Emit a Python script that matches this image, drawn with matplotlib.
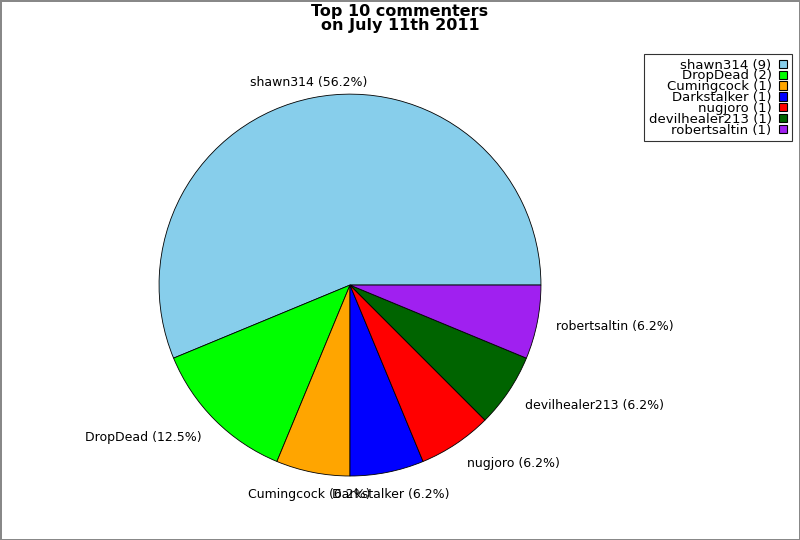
import matplotlib
matplotlib.use("Agg")
import matplotlib.pyplot as plt
from matplotlib.patches import Patch

# data
names = ["shawn314", "DropDead", "Cumingcock", "Darkstalker",
         "nugjoro", "devilhealer213", "robertsaltin"]
counts = [9, 2, 1, 1, 1, 1, 1]
colors = ["#87CEEB", "#00FF00", "#FFA500", "#0000FF",
          "#FF0000", "#006400", "#A020F0"]

total = float(sum(counts))
labels = ["%s (%.1f%%)" % (n, 100.0 * c / total) for n, c in zip(names, counts)]

fig = plt.figure(figsize=(8, 5.4), dpi=100)
fig.patch.set_edgecolor("#888888")
fig.patch.set_linewidth(2)

ax = fig.add_axes([0.139, 0.0301, 0.597, 0.884])
wedges, texts = ax.pie(counts, labels=labels, colors=colors, startangle=0,
                       counterclock=True, labeldistance=1.1,
                       wedgeprops={"edgecolor": "black", "linewidth": 0.6},
                       textprops={"fontsize": 9})
# labels near the vertical axis are centred; most sit a touch lower
for t in texts:
    x, y = t.get_position()
    if abs(y) > 0.3:
        t.set_y(y - 0.02)
    if abs(x) < 0.3:
        t.set_ha("center")

fig.suptitle("Top 10 commenters\non July 11th 2011", x=0.5, y=0.992,
             fontsize=11.5, fontweight="bold", linespacing=0.9, va="top")

handles = [Patch(facecolor=c, edgecolor="black", linewidth=0.8) for c in colors]
leg_labels = ["%s (%d)" % (n, c) for n, c in zip(names, counts)]
leg = fig.legend(handles, leg_labels, loc="upper right",
                 bbox_to_anchor=(0.99, 0.9), bbox_transform=fig.transFigure,
                 markerfirst=False, fontsize=9.5, labelspacing=-0.165,
                 handlelength=0.6, handleheight=0.6, handletextpad=0.6,
                 borderpad=0.35, borderaxespad=0, fancybox=False)
leg.get_frame().set_edgecolor("black")
leg.get_frame().set_linewidth(0.8)

fig.savefig("out.png", dpi=100)
